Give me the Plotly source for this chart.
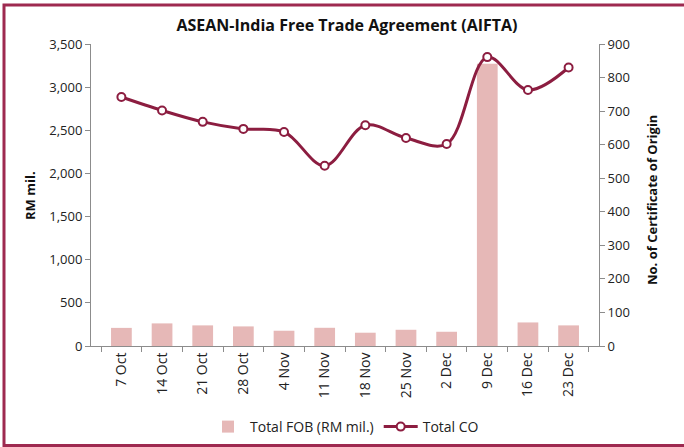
import plotly.graph_objects as go

categories = ["7 Oct", "14 Oct", "21 Oct", "28 Oct", "4 Nov", "11 Nov", "18 Nov",
              "25 Nov", "2 Dec", "9 Dec", "16 Dec", "23 Dec"]
fob_values = [210, 262, 239, 227, 177, 211, 154, 188, 165, 3271, 273, 239]
co_values = [742, 702, 668, 647, 638, 537, 658, 620, 602, 861, 763, 830]
left_ticks = [0, 500, 1000, 1500, 2000, 2500, 3000, 3500]
right_ticks = [0, 100, 200, 300, 400, 500, 600, 700, 800, 900]

W, H = 684, 447
L, R, T, B = 91, 599, 44, 346
pw, ph = R - L, B - T

FONT = "Open Sans"
MAROON = "#8C1D40"
BAR = "#E6B8B7"
AX = "#8C8C8C"

fig = go.Figure()
fig.add_trace(go.Bar(
    x=categories, y=fob_values, name="Total FOB (RM mil.)",
    marker=dict(color=BAR, line=dict(width=0)), yaxis="y",
))
fig.add_trace(go.Scatter(
    x=categories, y=co_values, name="Total CO", yaxis="y2",
    mode="lines+markers",
    line=dict(color=MAROON, width=3, shape="spline", smoothing=1.0),
    marker=dict(size=8, color="white", line=dict(color=MAROON, width=2)),
))


def px_x(x):
    return (x - L) / pw


def px_y(y):
    return (B - y) / ph


fig.update_layout(
    width=W, height=H,
    margin=dict(l=L, r=W - R, t=T, b=H - B, autoexpand=False),
    paper_bgcolor="white", plot_bgcolor="white",
    font=dict(family=FONT, size=13, color="#222"),
    title=dict(text="<b>ASEAN-India Free Trade Agreement (AIFTA)</b>",
               x=(347) / W, xanchor="center", y=1 - 25 / H, yanchor="middle",
               font=dict(family=FONT, size=16, color="#111")),
    bargap=0.49,
    showlegend=True,
    legend=dict(orientation="h", x=px_x(345), xanchor="center",
                y=px_y(427), yanchor="middle",
                font=dict(size=14), bgcolor="rgba(0,0,0,0)",
                itemwidth=34, tracegroupgap=0),
    xaxis=dict(
        type="category", showline=True, linecolor=AX, linewidth=1,
        ticks="outside", ticklen=5, tickcolor=AX, tickson="boundaries",
        tickangle=-90, showgrid=False, tickfont=dict(size=14), automargin=False,
    ),
    yaxis=dict(
        range=[0, 3500], tickvals=left_ticks, tickformat=",",
        showline=True, linecolor=AX, linewidth=1, ticks="outside", ticklen=5,
        tickcolor=AX, showgrid=False, zeroline=False, automargin=False,
    ),
    yaxis2=dict(
        range=[0, 900], tickvals=right_ticks, overlaying="y", side="right",
        showline=True, linecolor=AX, linewidth=1, ticks="outside", ticklen=5,
        tickcolor=AX, showgrid=False, zeroline=False, automargin=False,
    ),
    annotations=[
        dict(text="<b>RM mil.</b>", xref="paper", yref="paper",
             x=px_x(30), y=px_y(196), textangle=-90, showarrow=False,
             xanchor="center", yanchor="middle",
             font=dict(family=FONT, size=13, color="#111")),
        dict(text="<b>No. of Certificate of Origin</b>", xref="paper", yref="paper",
             x=px_x(652), y=px_y(200), textangle=-90, showarrow=False,
             xanchor="center", yanchor="middle",
             font=dict(family=FONT, size=13, color="#111")),
    ],
    shapes=[
        dict(type="rect", xref="paper", yref="paper",
             x0=px_x(4), x1=px_x(695), y0=px_y(445.5), y1=px_y(5),
             line=dict(color="#9E2A50", width=3), fillcolor="rgba(0,0,0,0)", layer="above"),
    ],
)

fig.write_html("out.html", config={"displayModeBar": False},
               post_script="document.body.style.margin='0';")
